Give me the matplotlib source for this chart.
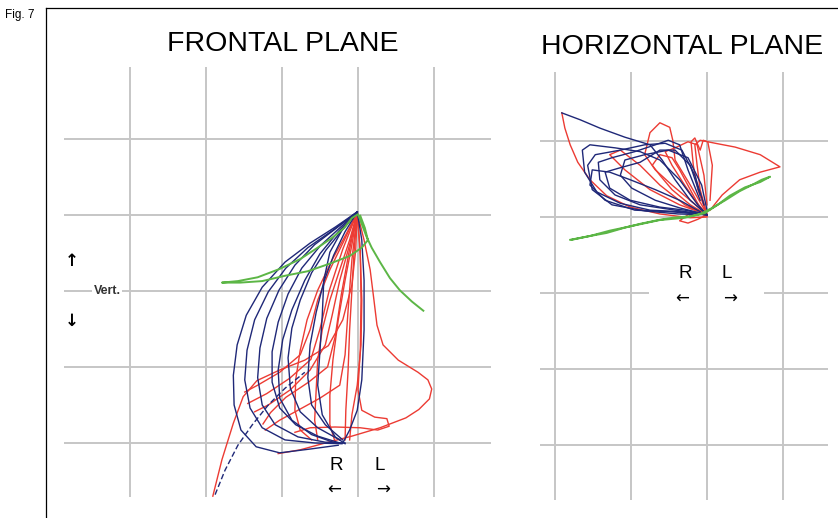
import matplotlib.pyplot as plt
from matplotlib.lines import Line2D

# Jaw tracking traces, in grid units (1 unit = one grid square)
# origin = the point where all cycles meet

# ---- frontal plane ----
front_blue = [
    [(-0.01, 0.04), (-0.30, -0.16), (-0.63, -0.37), (-0.96, -0.62), (-1.26, -0.95), (-1.47, -1.32), (-1.59, -1.71),
     (-1.64, -2.11), (-1.63, -2.50), (-1.54, -2.83), (-1.34, -3.05), (-1.03, -3.13), (-0.63, -3.08), (-0.26, -3.03)],
    [(-0.01, 0.04), (-0.33, -0.20), (-0.66, -0.43), (-0.95, -0.70), (-1.18, -1.01), (-1.36, -1.38), (-1.46, -1.78),
     (-1.49, -2.17), (-1.42, -2.54), (-1.26, -2.80), (-0.96, -2.96), (-0.57, -3.00), (-0.21, -3.01)],
    [(-0.01, 0.04), (-0.28, -0.17), (-0.57, -0.39), (-0.83, -0.66), (-1.04, -0.99), (-1.20, -1.36), (-1.29, -1.75),
     (-1.32, -2.14), (-1.26, -2.50), (-1.09, -2.76), (-0.79, -2.92), (-0.43, -2.99), (-0.17, -3.00)],
    [(-0.01, 0.04), (-0.24, -0.17), (-0.50, -0.41), (-0.74, -0.70), (-0.92, -1.04), (-1.05, -1.41), (-1.13, -1.80),
     (-1.13, -2.20), (-1.03, -2.54), (-0.82, -2.76), (-0.53, -2.91), (-0.24, -3.00)],
    [(-0.01, 0.04), (-0.21, -0.20), (-0.42, -0.46), (-0.61, -0.76), (-0.76, -1.12), (-0.87, -1.49), (-0.92, -1.88),
     (-0.89, -2.28), (-0.76, -2.59), (-0.53, -2.80), (-0.24, -2.96)],
    [(-0.01, 0.04), (-0.26, -0.22), (-0.50, -0.51), (-0.70, -0.86), (-0.87, -1.25), (-0.99, -1.64), (-1.05, -2.04),
     (-1.03, -2.41), (-0.87, -2.70), (-0.61, -2.89), (-0.30, -3.00)],
    [(-0.01, 0.04), (-0.17, -0.22), (-0.32, -0.53), (-0.45, -0.88), (-0.55, -1.28), (-0.63, -1.71), (-0.66, -2.14),
     (-0.61, -2.50), (-0.43, -2.76), (-0.20, -2.96)],
    [(-0.01, 0.04), (0.05, -0.33), (0.08, -0.86), (0.08, -1.51), (0.05, -2.17), (-0.01, -2.57), (-0.11, -2.83),
     (-0.20, -3.00)],
    [(-0.01, 0.04), (-0.21, -0.20), (-0.37, -0.49), (-0.45, -0.86), (-0.47, -1.32), (-0.50, -1.78), (-0.53, -2.24),
     (-0.47, -2.63), (-0.30, -2.92), (-0.17, -3.01)],
]
front_blue_start = [(-1.88, -3.68), (-1.75, -3.36), (-1.58, -3.03), (-1.39, -2.76), (-1.18, -2.50), (-0.96, -2.28),
                    (-0.70, -2.07)]

front_red = [
    [(-0.01, 0.03), (0.08, -0.33), (0.16, -0.72), (0.21, -1.12), (0.25, -1.45), (0.33, -1.71), (0.53, -1.91),
     (0.79, -2.07), (0.92, -2.17), (0.97, -2.29), (0.94, -2.42), (0.80, -2.56), (0.63, -2.67), (0.29, -2.80),
     (-0.08, -2.91), (-0.43, -3.00), (-0.76, -3.09), (-1.05, -3.14)],
    [(-0.01, 0.03), (0.03, -0.46), (0.04, -1.12), (0.03, -1.78), (0.00, -2.30), (0.05, -2.57), (0.22, -2.66),
     (0.38, -2.68), (0.41, -2.78), (0.26, -2.83), (0.03, -2.80), (-0.30, -2.79), (-0.63, -2.80), (-0.83, -2.86)],
    [(-0.01, 0.03), (-0.11, -0.33), (-0.24, -0.72), (-0.37, -1.12), (-0.47, -1.51), (-0.53, -1.91), (-0.55, -2.30),
     (-0.57, -2.70), (-0.53, -2.96)],
    [(-0.01, 0.03), (-0.08, -0.39), (-0.17, -0.86), (-0.26, -1.38), (-0.33, -1.91), (-0.37, -2.37), (-0.37, -2.76),
     (-0.30, -2.99)],
    [(-0.01, 0.03), (-0.16, -0.26), (-0.34, -0.59), (-0.53, -0.99), (-0.67, -1.38), (-0.76, -1.78), (-0.82, -2.17),
     (-0.83, -2.57), (-0.76, -2.83), (-0.61, -2.96)],
    [(-0.01, 0.03), (-0.18, -0.33), (-0.37, -0.72), (-0.53, -1.12), (-0.63, -1.51), (-0.76, -1.84), (-1.03, -2.07),
     (-1.32, -2.24), (-1.49, -2.33)],
    [(-0.01, 0.03), (-0.05, -0.46), (-0.08, -0.99), (-0.11, -1.51), (-0.13, -2.04), (-0.16, -2.57), (-0.17, -2.96)],
    [(-0.01, 0.03), (0.03, -0.53), (0.05, -1.12), (0.04, -1.71), (-0.01, -2.24), (-0.08, -2.63), (-0.11, -2.96)],
    [(-0.01, 0.03), (-0.11, -0.39), (-0.24, -0.86), (-0.34, -1.32), (-0.43, -1.71), (-0.63, -2.04), (-0.89, -2.30),
     (-1.18, -2.50), (-1.36, -2.59)],
    [(-0.01, 0.03), (-0.08, -0.59), (-0.13, -1.25), (-0.17, -1.84), (-0.24, -2.24), (-0.50, -2.41), (-0.79, -2.57),
     (-1.03, -2.70), (-1.22, -2.83)],
    [(-0.01, 0.03), (-0.20, -0.45), (-0.38, -1.00), (-0.50, -1.50), (-0.62, -1.90), (-0.90, -2.15), (-1.20, -2.35),
     (-1.45, -2.48)],
    [(-0.01, 0.03), (-0.12, -0.50), (-0.22, -1.05), (-0.30, -1.60), (-0.40, -2.00), (-0.65, -2.20), (-0.95, -2.40),
     (-1.15, -2.60), (-1.25, -2.75)],
]
front_red_start = [(-1.91, -3.70), (-1.79, -3.22), (-1.64, -2.74), (-1.51, -2.39), (-1.33, -2.18), (-1.03, -2.04),
                   (-0.70, -1.91), (-0.39, -1.72), (-0.20, -1.38), (-0.08, -0.92), (-0.03, -0.46), (-0.01, 0.01)]

front_green_x = [0.86, 0.71, 0.55, 0.42, 0.29, 0.18, 0.11, 0.05, 0.00, -0.08, -0.18, -0.34, -0.53, -0.76, -1.03,
                 -1.32, -1.58, -1.79, -1.55, -1.26, -0.96, -0.66, -0.37, -0.11, 0.05, 0.13, 0.09, 0.03]
front_green_y = [-1.26, -1.14, -0.99, -0.83, -0.62, -0.43, -0.28, -0.12, 0.01, -0.04, -0.17, -0.30, -0.43, -0.58,
                 -0.71, -0.82, -0.87, -0.89, -0.89, -0.87, -0.80, -0.74, -0.64, -0.54, -0.43, -0.33, -0.17, -0.01]

# ---- horizontal plane ----
horiz_blue = [
    [(0.00, 0.03), (-0.22, 0.22), (-0.42, 0.49), (-0.59, 0.75), (-0.75, 0.95), (-1.08, 1.05), (-1.41, 1.17),
     (-1.67, 1.28), (-1.91, 1.37)],
    [(0.00, 0.03), (-0.36, 0.07), (-0.75, 0.09), (-1.14, 0.18), (-1.45, 0.33), (-1.61, 0.59), (-1.64, 0.88),
     (-1.54, 0.95), (-1.21, 0.91), (-0.88, 0.86), (-0.62, 0.75), (-0.36, 0.49), (-0.12, 0.16), (0.00, 0.03)],
    [(0.00, 0.03), (-0.38, 0.04), (-0.82, 0.08), (-1.25, 0.16), (-1.51, 0.36), (-1.57, 0.68), (-1.47, 0.82),
     (-1.14, 0.88), (-0.82, 0.95), (-0.55, 0.97), (-0.33, 0.88), (-0.16, 0.55), (-0.04, 0.16)],
    [(0.00, 0.03), (-0.42, 0.09), (-0.88, 0.16), (-1.21, 0.29), (-1.41, 0.49), (-1.43, 0.72), (-1.25, 0.78),
     (-0.95, 0.86), (-0.68, 0.95), (-0.51, 1.01), (-0.36, 0.95), (-0.25, 0.62), (-0.09, 0.22)],
    [(0.00, 0.03), (-0.29, 0.09), (-0.62, 0.13), (-1.01, 0.22), (-1.28, 0.38), (-1.34, 0.59), (-1.17, 0.64),
     (-0.88, 0.72), (-0.62, 0.88), (-0.42, 0.88), (-0.22, 0.68), (-0.09, 0.29)],
    [(0.00, 0.03), (-0.49, 0.07), (-0.95, 0.09), (-1.34, 0.22), (-1.54, 0.42), (-1.51, 0.62), (-1.28, 0.59),
     (-1.01, 0.49), (-0.68, 0.36), (-0.36, 0.22), (-0.09, 0.07)],
    [(0.00, 0.03), (-0.36, 0.12), (-0.68, 0.22), (-0.99, 0.38), (-1.14, 0.55), (-1.08, 0.75), (-0.82, 0.82),
     (-0.51, 0.88), (-0.25, 0.78), (-0.07, 0.42), (0.00, 0.09)],
]

horiz_red = [
    [(-1.91, 1.37), (-1.87, 1.17), (-1.80, 0.95), (-1.70, 0.72), (-1.54, 0.49), (-1.32, 0.28), (-1.01, 0.13),
     (-0.62, 0.04), (-0.22, -0.01), (0.00, 0.00)],
    [(0.00, 0.03), (-0.09, 0.36), (-0.13, 0.68), (-0.16, 0.95), (-0.09, 1.01), (0.11, 0.97), (0.37, 0.92),
     (0.70, 0.82), (0.96, 0.66), (0.70, 0.59), (0.43, 0.49), (0.20, 0.29), (0.04, 0.09)],
    [(0.00, 0.03), (-0.22, 0.22), (-0.46, 0.42), (-0.68, 0.62), (-0.82, 0.82), (-0.75, 1.11), (-0.62, 1.24),
     (-0.49, 1.18), (-0.45, 1.01), (-0.42, 0.75), (-0.22, 0.42), (-0.03, 0.09)],
    [(0.00, 0.03), (-0.12, 0.36), (-0.18, 0.68), (-0.21, 0.99), (-0.16, 1.04), (-0.09, 0.88), (-0.05, 1.01),
     (0.01, 0.99), (0.07, 0.68), (0.04, 0.22)],
    [(0.00, 0.03), (-0.22, 0.16), (-0.46, 0.36), (-0.62, 0.55), (-0.72, 0.68), (-0.62, 0.82), (-0.46, 0.78),
     (-0.36, 0.62), (-0.22, 0.36), (-0.09, 0.12)],
    [(0.00, 0.03), (-0.16, 0.22), (-0.32, 0.46), (-0.46, 0.68), (-0.55, 0.86), (-0.42, 0.91), (-0.25, 0.99),
     (-0.13, 0.95), (-0.04, 0.55), (0.00, 0.16)],
    [(0.00, 0.03), (-0.12, -0.03), (-0.25, -0.08), (-0.36, -0.05), (-0.25, 0.03), (-0.09, 0.05), (0.00, 0.01)],
    [(0.00, 0.03), (-0.36, 0.16), (-0.75, 0.36), (-1.08, 0.62), (-1.28, 0.82), (-1.14, 0.88), (-0.88, 0.68),
     (-0.62, 0.42), (-0.29, 0.16), (0.00, 0.03)],
]

horiz_green_x = [-1.80, -1.54, -1.32, -1.08, -0.88, -0.64, -0.45, -0.22, -0.09, 0.07, 0.24, 0.43, 0.59, 0.72, 0.83,
                 0.70, 0.50, 0.30, 0.14, -0.03, -0.29, -0.62, -0.95, -1.28, -1.54, -1.78]
horiz_green_y = [-0.30, -0.25, -0.21, -0.14, -0.09, -0.04, -0.01, 0.01, 0.04, 0.12, 0.22, 0.34, 0.42, 0.49, 0.53,
                 0.46, 0.39, 0.28, 0.16, 0.05, -0.01, -0.04, -0.11, -0.18, -0.25, -0.30]

# grid lines of each panel
front_grid_x = [-3, -2, -1, 0, 1]
front_grid_y = [1, 0, -1, -2, -3]
horiz_grid_x = [-2, -1, 0, 1]
horiz_grid_y = [1, 0, -1, -2, -3]

BLUE = '#1f2878'
RED = '#ec3b33'
GREEN = '#5cb646'
GRID = '#c6c6c6'
LW = 1.0

plt.rcParams['font.family'] = ['Liberation Sans', 'DejaVu Sans']

fig = plt.figure(figsize=(8.38, 5.18), dpi=100)


def draw_traces(ax, traces, color, **kw):
    for tr in traces:
        xs = [p[0] for p in tr]
        ys = [p[1] for p in tr]
        ax.plot(xs, ys, color=color, lw=LW, zorder=3, solid_joinstyle='round', **kw)


# Frontal plane
ax1 = fig.add_axes([64 / 838, 21 / 518, 427 / 838, 430 / 518])
ax1.set_xlim(-3.868, 1.75)
ax1.set_ylim(-3.711, 1.947)
ax1.axis('off')
for gx in front_grid_x:
    ax1.axvline(gx, color=GRID, lw=1.4, zorder=1)
for gy in front_grid_y:
    ax1.axhline(gy, color=GRID, lw=1.4, zorder=1)

draw_traces(ax1, front_red, RED)
draw_traces(ax1, [front_red_start], RED)
draw_traces(ax1, front_blue, BLUE)
draw_traces(ax1, [front_blue_start], BLUE, ls=(0, (4, 2)))
ax1.plot(front_green_x, front_green_y, color=GREEN, lw=1.4, zorder=4)

ax1.text(-0.28, -3.29, 'R', fontsize=13.5, ha='center', va='center')
ax1.text(0.28, -3.29, 'L', fontsize=13.5, ha='center', va='center')
ax1.text(-0.32, -3.62, '←', fontsize=12, ha='center', va='center', family='DejaVu Sans')
ax1.text(0.33, -3.62, '→', fontsize=12, ha='center', va='center', family='DejaVu Sans')
ax1.text(-3.76, -0.60, '↑', fontsize=12, ha='center', va='center', family='DejaVu Sans', weight='bold')
ax1.text(-3.76, -1.39, '↓', fontsize=12, ha='center', va='center', family='DejaVu Sans', weight='bold')
ax1.text(-3.30, -1.0, 'Vert.', fontsize=9, ha='center', va='center', weight='bold', color='#333333',
         bbox=dict(facecolor='white', edgecolor='none', pad=1.0), zorder=2)

# Horizontal plane
ax2 = fig.add_axes([540 / 838, 18 / 518, 288 / 838, 428 / 518])
ax2.set_xlim(-2.197, 1.592)
ax2.set_ylim(-3.724, 1.908)
ax2.axis('off')
for gx in horiz_grid_x:
    ax2.axvline(gx, color=GRID, lw=1.4, zorder=1)
for gy in horiz_grid_y:
    if gy == -1:
        # line is broken where the R / L labels sit
        ax2.hlines(gy, -2.197, -0.76, color=GRID, lw=1.4, zorder=1)
        ax2.hlines(gy, 0.75, 1.592, color=GRID, lw=1.4, zorder=1)
    else:
        ax2.axhline(gy, color=GRID, lw=1.4, zorder=1)

draw_traces(ax2, horiz_red, RED)
draw_traces(ax2, horiz_blue, BLUE)
ax2.plot(horiz_green_x, horiz_green_y, color=GREEN, lw=1.4, zorder=4)

ax2.text(-0.29, -0.75, 'R', fontsize=13.5, ha='center', va='center')
ax2.text(0.26, -0.75, 'L', fontsize=13.5, ha='center', va='center')
ax2.text(-0.33, -1.07, '←', fontsize=12, ha='center', va='center', family='DejaVu Sans')
ax2.text(0.30, -1.07, '→', fontsize=12, ha='center', va='center', family='DejaVu Sans')

# titles and frame
fig.text(283 / 838, 1 - 44 / 518, 'FRONTAL PLANE', fontsize=20.5, ha='center', va='center')
fig.text(682 / 838, 1 - 47 / 518, 'HORIZONTAL PLANE', fontsize=20.5, ha='center', va='center')
fig.text(5 / 838, 1 - 15 / 518, 'Fig. 7', fontsize=8.5, ha='left', va='center')

fig.add_artist(Line2D([46 / 838, 46 / 838], [0, 1 - 8 / 518], color='black', lw=0.9))
fig.add_artist(Line2D([46 / 838, 1], [1 - 8 / 518, 1 - 8 / 518], color='black', lw=0.9))

fig.savefig('out.png', dpi=100)
